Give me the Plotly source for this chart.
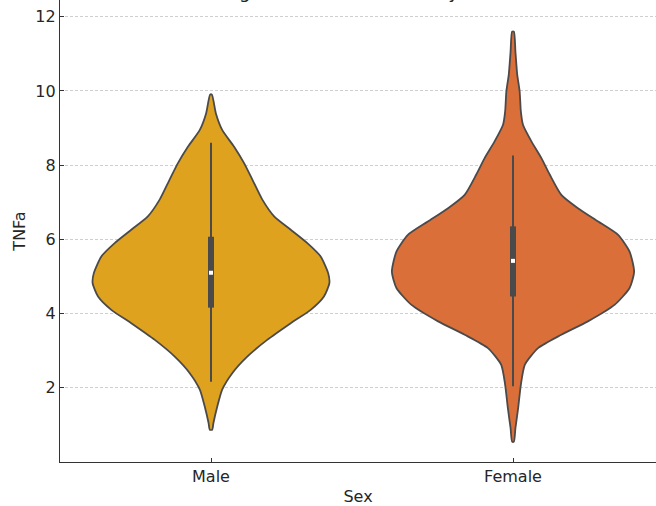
import plotly.graph_objects as go

# ---- data ----
categories = ["Male", "Female"]
fill_colors = ["#DFA21F", "#DB6F3A"]

# violin outline: value (TNFa) and half-width (in category units), bottom -> top
male_y = [0.87, 1.05, 1.50, 1.95, 2.40, 2.84, 3.29, 3.74, 4.10, 4.46, 4.82, 5.09,
          5.54, 5.90, 6.26, 6.62, 7.07, 7.61, 8.06, 8.50, 8.95, 9.40, 9.90]
male_hw = [0.004, 0.008, 0.021, 0.037, 0.071, 0.120, 0.186, 0.264, 0.330, 0.374, 0.392, 0.388,
           0.363, 0.319, 0.264, 0.209, 0.170, 0.137, 0.109, 0.076, 0.037, 0.016, 0.003]

female_y = [0.55, 0.91, 1.45, 2.08, 2.62, 3.07, 3.43, 3.79, 4.24, 4.69, 5.13, 5.67,
            6.12, 6.48, 6.84, 7.20, 7.74, 8.19, 8.64, 9.09, 9.45, 9.99, 10.44, 11.06, 11.60]
female_hw = [0.003, 0.008, 0.017, 0.026, 0.039, 0.083, 0.160, 0.248, 0.337, 0.386, 0.401, 0.386,
             0.348, 0.282, 0.215, 0.160, 0.122, 0.094, 0.061, 0.033, 0.026, 0.022, 0.014, 0.008, 0.003]

# inner box statistics
q1 = [4.16, 4.46]
median = [5.10, 5.42]
q3 = [6.07, 6.35]
whisker_lo = [2.16, 2.04]
whisker_hi = [8.60, 8.26]

y_ticks = [2, 4, 6, 8, 10, 12]
title_text = "TNFa Levels Among Males and Females by Sex"

outline_color = "#4a4a4a"
text_color = "#262626"

fig = go.Figure()

outlines = [(male_y, male_hw), (female_y, female_hw)]
for i, (ys, hws) in enumerate(outlines):
    xs_left = [i - h for h in hws]
    xs_right = [i + h for h in reversed(hws)]
    xs = xs_left + xs_right + [xs_left[0]]
    yy = list(ys) + list(reversed(ys)) + [ys[0]]
    fig.add_trace(go.Scatter(
        x=xs, y=yy, mode="lines", fill="toself",
        fillcolor=fill_colors[i],
        line=dict(color=outline_color, width=1.8, shape="spline", smoothing=0.6),
        hoverinfo="skip", showlegend=False,
    ))

for i in range(len(categories)):
    fig.add_trace(go.Scatter(
        x=[i, i], y=[whisker_lo[i], whisker_hi[i]], mode="lines",
        line=dict(color=outline_color, width=2), showlegend=False, hoverinfo="skip"))
    fig.add_trace(go.Scatter(
        x=[i, i], y=[q1[i], q3[i]], mode="lines",
        line=dict(color=outline_color, width=6), showlegend=False, hoverinfo="skip"))
    fig.add_trace(go.Scatter(
        x=[i], y=[median[i]], mode="markers",
        marker=dict(color="white", size=4, symbol="square", line=dict(width=0)),
        showlegend=False, hoverinfo="skip"))

fig.update_layout(
    width=656, height=506,
    margin=dict(l=60, r=0, t=0, b=44),
    paper_bgcolor="white", plot_bgcolor="white",
    font=dict(family="DejaVu Sans", size=16, color=text_color),
    title=dict(text=title_text, x=285 / 656, xref="container", xanchor="center",
               y=1, yref="container", yanchor="bottom", pad=dict(b=2),
               font=dict(size=18.3, color=text_color)),
    showlegend=False,
)
fig.update_xaxes(
    range=[-0.5, 1.5 - 8 / 302],
    tickvals=list(range(len(categories))), ticktext=categories,
    showgrid=False, zeroline=False, automargin=False,
    showline=True, linecolor="#333333", linewidth=1.3,
    ticks="inside", ticklen=4, tickwidth=1.2, tickcolor="#333333",
    title=dict(text="Sex", standoff=6, font=dict(size=16)),
)
fig.update_yaxes(
    range=[0, 12.45],
    tickvals=y_ticks,
    showgrid=True, gridcolor="#cfcfcf", gridwidth=0.8, griddash="3px,2px",
    zeroline=False, automargin=False,
    showline=True, linecolor="#333333", linewidth=1.3,
    ticks="inside", ticklen=4, tickwidth=1.2, tickcolor="#333333",
    title=dict(text="TNFa", standoff=5, font=dict(size=16)),
)

fig.write_html("out.html", config={"displayModeBar": False},
               post_script="document.body.style.margin='0';")
